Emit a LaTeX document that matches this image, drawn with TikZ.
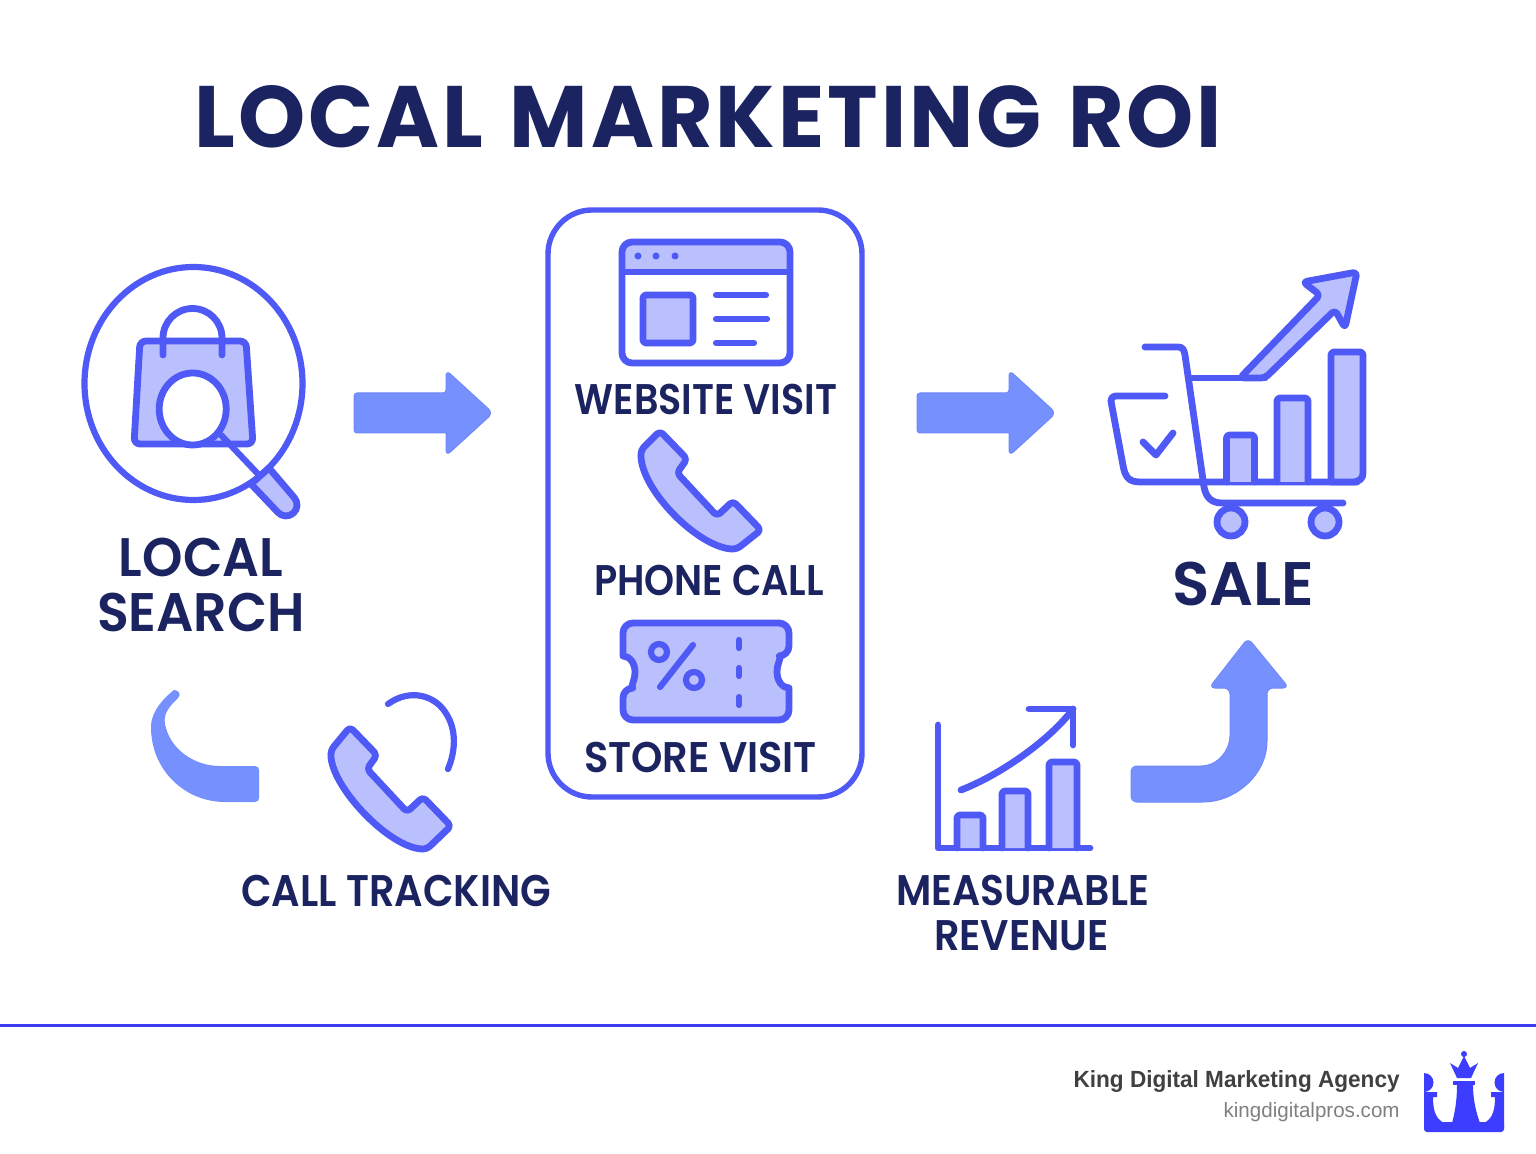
\documentclass[tikz,border=0pt]{standalone}
\usepackage{fontspec}
\usepackage{graphicx}
\setmainfont{Poppins}[BoldFont={Poppins SemiBold}]
\newfontfamily\titlef{Poppins}[LetterSpace=3.5,WordSpace=1.25]
\newfontfamily\footf{Liberation Sans}
\definecolor{strokeb}{HTML}{4F59F6}
\definecolor{lightb}{HTML}{BABFFD}
\definecolor{arrowb}{HTML}{7690FE}
\definecolor{inkb}{HTML}{1B2460}
\definecolor{ruleb}{HTML}{3B3BF5}
\definecolor{logob}{HTML}{3D3DFF}
\newcommand{\lbl}[6]{% name, cx, baseline, width px, cap height px, text
  \pgfmathsetmacro{\lblf}{#5/0.70/2}%
  \pgfmathsetmacro{\lblw}{#4/2}%
  \node[lab,font=\fontsize{\lblf pt}{\lblf pt}\selectfont\bfseries] (#1) at (#2,#3) {\resizebox{\lblw pt}{\height}{#6}};}
\newcommand{\strarrow}{% straight arrow, drawn at x offset 0
  \draw[bigarrow,sharp corners] (446,393) [rounded corners=3pt] -- (446,370) -- (493,413) -- (446,456) [sharp corners] -- (446,433) [rounded corners=1.5pt] -- (354,433) -- (354,393) -- cycle;}
\tikzset{
  x=0.5pt,y=-0.5pt,
  lab/.style={anchor=base,inner sep=0pt,outer sep=0pt,text=inkb},
  ico/.style={draw=strokeb,line width=3.4pt,line join=round,line cap=round},
  icofill/.style={ico,fill=lightb},
  thinline/.style={ico,line width=3.1pt},
  bigarrow/.style={fill=arrowb,draw=arrowb!85!strokeb,line width=0.5pt,rounded corners=3pt,line join=round},
}
\begin{document}
\begin{tikzpicture}
\useasboundingbox (0,0) rectangle (1536,1154);
\fill[white] (0,0) rectangle (1536,1154);

% title
\lbl{title}{708.5}{148}{1027}{61}{\titlef LOCAL MARKETING ROI}

% local search icon
\draw[thinline] (193.5,383.5) ellipse [x radius=109,y radius=116.5];
\draw[ico,fill=lightb,rounded corners=3pt] (140,341) -- (246,341) -- (253,444) -- (134,444) -- cycle;
\draw[ico] (163,355) -- (163,338) arc[start angle=180,end angle=360,radius=29.5] -- (222,355);
\draw[thinline] (221,435) -- (258,474);
\draw[icofill] (251,484) -- (269,468) -- (294.2,497.6) arc[start angle=-42,end angle=138,radius=11] -- cycle;
\draw[ico,fill=white] (192.7,409) ellipse [x radius=33.5,y radius=36];
\lbl{local1}{201}{576}{164}{38}{LOCAL}
\lbl{local2}{201}{632}{208}{38}{SEARCH}

% straight arrows
\strarrow
\begin{scope}[shift={(563,0)}]\strarrow\end{scope}

% centre container
\draw[draw=strokeb,line width=2.7pt,rounded corners=22pt] (548,210) rectangle (862,797);

% website
\begin{scope}
\path[clip,rounded corners=5pt] (622,242) rectangle (790,363);
\fill[lightb] (622,242) rectangle (790,272);
\end{scope}
\draw[ico,rounded corners=5pt] (622,242) rectangle (790,363);
\draw[ico,line cap=butt] (622,272) -- (790,272);
\fill[strokeb] (638,256) circle (3.5) (656,256) circle (3.5) (675,256) circle (3.5);
\draw[icofill,rounded corners=1.5pt] (643,295) rectangle (693,343);
\draw[thinline] (716,295) -- (766,295) (716,319) -- (767,319) (716,343) -- (754,343);
\lbl{web}{706}{415}{262}{30}{WEBSITE VISIT}

% phones
\draw[icofill,rounded corners=2pt] (660,431) -- (687,459) -- (677,473) -- (717,516) -- (733,501) -- (761,530)
  -- (737,549) .. controls (700,549) and (640,490) .. (641,450) -- cycle;
\lbl{phone}{709}{595}{230}{30}{PHONE CALL}
\begin{scope}[shift={(-310,296)}]
\draw[icofill,rounded corners=2pt] (660,431) -- (687,459) -- (677,473) -- (717,516) -- (733,501) -- (761,530)
  -- (737,553) .. controls (700,553) and (640,490) .. (641,454) -- cycle;
\end{scope}
\draw[thinline] (388,704) .. controls (410,688) and (436,695) .. (447,715) .. controls (456,730) and (456,750) .. (448,769);
\lbl{track}{396}{906}{310}{31}{CALL TRACKING}

% ticket
\draw[icofill,rounded corners=5pt] (623,623) -- (789,623) -- (789,656)
  [sharp corners] arc[start angle=270,end angle=90,x radius=12,y radius=16]
  [rounded corners=5pt] -- (789,720) -- (623,720) -- (623,688)
  [sharp corners] arc[start angle=90,end angle=-90,x radius=12,y radius=16]
  [rounded corners=5pt] -- cycle;
\draw[thinline] (659,652) circle (8) (694,680) circle (8);
\draw[thinline] (693,645) -- (660,687);
\draw[thinline] (739,640) -- (739,648) (739,668) -- (739,676) (739,697) -- (739,705);
\lbl{store}{700.5}{772}{233}{30}{STORE VISIT}

% left curved piece
\fill[arrowb] (174,690) .. controls (178,690) and (182,694) .. (178,698)
  .. controls (170,706) and (163,713) .. (165,724) .. controls (170,750) and (195,766) .. (220,766)
  -- (255,766) .. controls (258,766) and (259,768) .. (259,770) -- (259,798) .. controls (259,800) and (258,802) .. (255,802)
  -- (225,802) .. controls (185,802) and (150,770) .. (151,725) .. controls (152,710) and (165,697) .. (174,690) -- cycle;

% chart
\draw[ico] (938,725) -- (938,848) -- (1090,848);
\draw[icofill,rounded corners=1.5pt] (957,848) -- (957,815) -- (983,815) -- (983,848);
\draw[icofill,rounded corners=1.5pt] (1002,848) -- (1002,791) -- (1028,791) -- (1028,848);
\draw[icofill,rounded corners=1.5pt] (1049,848) -- (1049,762) -- (1077,762) -- (1077,848);
\draw[ico] (961,790) .. controls (1000,775) and (1050,740) .. (1073,709);
\draw[ico] (1029,709) -- (1073,709) -- (1073,745);
\lbl{meas1}{1022.5}{905}{253}{30}{MEASURABLE}
\lbl{meas2}{1021.5}{950}{175}{30}{REVENUE}

% right curved arrow
\path[bigarrow] (1131,766) -- (1195,766) .. controls (1218,766) and (1230,750) .. (1230,730)
  -- (1230,688) -- (1209,688) -- (1248,638) -- (1289,688) -- (1267,688) -- (1267,735)
  .. controls (1267,775) and (1235,802) .. (1197,802) -- (1131,802) -- cycle;

% cart
\draw[ico] (1145,347) -- (1178,347) .. controls (1183,347) and (1184,350) .. (1185,355) -- (1204,487)
  .. controls (1206,498) and (1212,503) .. (1222,503) -- (1343,503);
\draw[ico,rounded corners=3pt] (1165,396) -- (1110,396) -- (1122,460) [rounded corners=0pt] .. controls (1125,476) and (1128,482) .. (1140,482) -- (1357,482);
\draw[icofill,rounded corners=1.5pt] (1226.5,482) -- (1226.5,435) -- (1254.5,435) -- (1254.5,482);
\draw[icofill,rounded corners=1.5pt] (1277,482) -- (1277,398) -- (1308,398) -- (1308,482);
\draw[icofill,rounded corners=1.5pt] (1331,482) -- (1331,352) -- (1363,352) -- (1363,470) [rounded corners=0pt] .. controls (1363,478) and (1360,482) .. (1352,482) -- cycle;
\draw[ico] (1143,442) -- (1156,455) -- (1173,433);
\draw[ico] (1192,378) -- (1265,378);
\draw[icofill,rounded corners=2pt] (1240,378) -- (1320,295) -- (1303,282) -- (1357,272) -- (1345,328) -- (1335,310) -- (1265,378) -- cycle;
\draw[icofill] (1231,522) circle (14) (1325,522) circle (14);
\lbl{sale}{1243}{605}{142}{43}{SALE}

% footer rule
\draw[ruleb,line width=1.5pt] (0,1025) -- (1536,1025);
\node[anchor=base east,inner sep=0pt,text=black!75,font=\footf\fontsize{11.7pt}{12pt}\selectfont\bfseries] (agency) at (1400,1087) {\resizebox{163pt}{\height}{King Digital Marketing Agency}};
\node[anchor=base east,inner sep=0pt,text=black!50,font=\footf\fontsize{10.4pt}{12pt}\selectfont] (url) at (1400,1117) {\resizebox{88pt}{\height}{kingdigitalpros.com}};

% logo
\fill[logob,rounded corners=1.5pt] (1424,1122) rectangle (1504,1132);
\fill[logob] (1424,1073) arc[start angle=270,end angle=450,radius=9.5] -- cycle;
\fill[logob] (1504,1073) arc[start angle=270,end angle=90,radius=9.5] -- cycle;
\fill[logob] (1424,1092) -- (1437,1092) -- (1437,1097) -- (1433,1097) .. controls (1433,1112) and (1436,1122) .. (1450,1125) -- (1424,1128) -- cycle;
\fill[logob] (1504,1092) -- (1491,1092) -- (1491,1097) -- (1495,1097) .. controls (1495,1112) and (1492,1122) .. (1478,1125) -- (1504,1128) -- cycle;
\fill[logob] (1457,1085) -- (1473,1085) .. controls (1473,1100) and (1476,1112) .. (1480,1123) -- (1452,1123) .. controls (1455,1112) and (1457,1100) .. (1457,1085) -- cycle;
\fill[logob] (1453,1081) rectangle (1475,1085);
\fill[logob] (1450,1063) -- (1458,1068) -- (1464,1056) -- (1470,1068) -- (1478,1063) -- (1471,1078) -- (1457,1078) -- cycle;
\fill[logob] (1464,1054) circle (3);
\end{tikzpicture}
\end{document}
